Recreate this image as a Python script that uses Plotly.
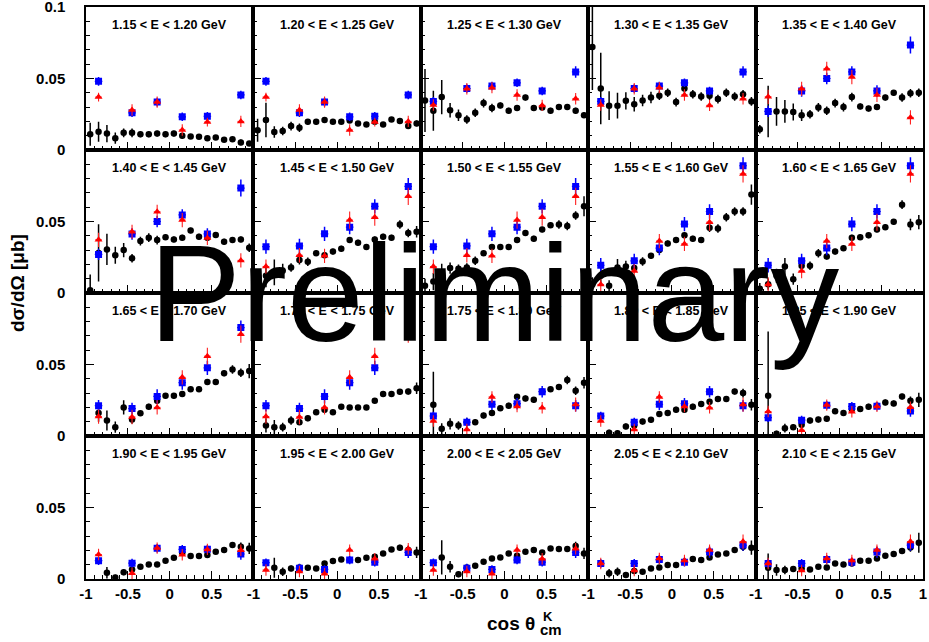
import plotly.graph_objects as go
from plotly.subplots import make_subplots

# ---------------- data ----------------
titles = ["1.15 < E < 1.20 GeV", "1.20 < E < 1.25 GeV", "1.25 < E < 1.30 GeV", "1.30 < E < 1.35 GeV", "1.35 < E < 1.40 GeV",
          "1.40 < E < 1.45 GeV", "1.45 < E < 1.50 GeV", "1.50 < E < 1.55 GeV", "1.55 < E < 1.60 GeV", "1.60 < E < 1.65 GeV",
          "1.65 < E < 1.70 GeV", "1.70 < E < 1.75 GeV", "1.75 < E < 1.80 GeV", "1.80 < E < 1.85 GeV", "1.85 < E < 1.90 GeV",
          "1.90 < E < 1.95 GeV", "1.95 < E < 2.00 GeV", "2.00 < E < 2.05 GeV", "2.05 < E < 2.10 GeV", "2.10 < E < 2.15 GeV"]

cos_black = [-0.95, -0.85, -0.75, -0.65, -0.55, -0.45, -0.35, -0.25, -0.15, -0.05,
             0.05, 0.15, 0.25, 0.35, 0.45, 0.55, 0.65, 0.75, 0.85, 0.95]
cos_other = [-0.85, -0.45, -0.15, 0.15, 0.45, 0.85]

black_y = [
    [0.011, 0.0128, 0.0115, 0.0083, 0.012, 0.012, 0.011, 0.011, 0.0115, 0.011, 0.0115, 0.0099, 0.0094, 0.0092, 0.0083, 0.0087, 0.0071, 0.0076, 0.0053, 0.0046],
    [0.0138, 0.021, 0.0126, 0.0133, 0.0167, 0.0156, 0.0197, 0.0197, 0.0209, 0.0197, 0.0197, 0.0206, 0.0186, 0.0179, 0.0197, 0.0179, 0.0213, 0.0202, 0.0167, 0.0186],
    [0.0346, 0.0275, 0.037, 0.0278, 0.0243, 0.0213, 0.026, 0.0328, 0.0294, 0.0312, 0.0275, 0.0294, 0.0367, 0.0294, 0.0298, 0.0275, 0.030, 0.030, 0.0275, 0.0243],
    [0.072, 0.043, 0.031, 0.031, 0.0344, 0.032, 0.0346, 0.0367, 0.038, 0.040, 0.0335, 0.043, 0.039, 0.0374, 0.038, 0.0356, 0.040, 0.0374, 0.039, 0.034],
    [0.0145, 0.027, 0.027, 0.027, 0.0266, 0.0243, 0.025, 0.0298, 0.0275, 0.0328, 0.030, 0.037, 0.0305, 0.029, 0.030, 0.0367, 0.040, 0.0367, 0.0397, 0.040],
    [0.002, 0.028, 0.0305, 0.0264, 0.030, 0.0243, 0.0363, 0.0387, 0.037, 0.039, 0.0375, 0.0387, 0.0437, 0.0394, 0.0387, 0.0405, 0.0359, 0.037, 0.0375, 0.0317],
    [0.006, 0.012, 0.0144, 0.0155, 0.0178, 0.023, 0.0218, 0.0278, 0.0264, 0.029, 0.031, 0.037, 0.0352, 0.0322, 0.0375, 0.0394, 0.0387, 0.0479, 0.042, 0.0428],
    [0.005, 0.008, 0.0144, 0.0174, 0.017, 0.0178, 0.0225, 0.0278, 0.0322, 0.0322, 0.0322, 0.037, 0.042, 0.038, 0.0444, 0.0474, 0.0479, 0.0468, 0.0542, 0.0606],
    [0.006, 0.012, 0.005, 0.0178, 0.0185, 0.0174, 0.022, 0.026, 0.030, 0.0347, 0.037, 0.0403, 0.038, 0.037, 0.0456, 0.0451, 0.053, 0.057, 0.057, 0.0688],
    [0.003, 0.0062, 0.012, 0.0185, 0.0097, 0.019, 0.019, 0.0278, 0.0255, 0.029, 0.0313, 0.0387, 0.039, 0.0403, 0.0444, 0.046, 0.0498, 0.0618, 0.0479, 0.0495],
    [None, 0.016, 0.0108, 0.0062, 0.020, 0.0115, 0.0159, 0.0205, 0.0247, 0.0281, 0.0281, 0.0293, 0.0327, 0.0327, 0.0378, 0.0378, 0.0438, 0.0465, 0.0442, 0.0454],
    [None, 0.0074, 0.0062, 0.0062, 0.0108, 0.0097, 0.0124, 0.0166, 0.0184, 0.0166, 0.0205, 0.020, 0.020, 0.020, 0.0247, 0.0293, 0.0293, 0.0309, 0.0311, 0.0334],
    [None, 0.0219, 0.005, 0.0085, 0.0074, 0.0097, 0.0097, 0.0143, 0.016, 0.0194, 0.0212, 0.0274, 0.0263, 0.0253, 0.0311, 0.0327, 0.0343, 0.0392, 0.0316, 0.0373],
    [None, None, 0.0023, 0.002, 0.0067, 0.0074, 0.0101, 0.0113, 0.0154, 0.016, 0.0184, 0.0184, 0.0205, 0.0224, 0.024, 0.0258, 0.0258, 0.0311, 0.030, 0.0219],
    [None, 0.0281, 0.0016, 0.0055, 0.0062, 0.0078, 0.0108, 0.0115, 0.012, 0.0173, 0.0161, 0.0189, 0.0189, 0.0205, 0.0212, 0.0235, 0.0228, 0.0276, 0.0247, 0.0253],
    [None, None, 0.0044, 0.001, 0.0047, 0.0067, 0.0086, 0.0102, 0.0102, 0.0128, 0.0149, 0.0184, 0.016, 0.016, 0.0167, 0.019, 0.0202, 0.0237, 0.0226, 0.0214],
    [None, None, 0.0079, 0.0051, 0.0074, 0.0081, 0.0079, 0.0074, 0.0109, 0.0126, 0.0137, 0.0133, 0.0133, 0.0149, 0.0156, 0.0179, 0.0207, 0.0219, 0.0202, 0.0186],
    [None, None, 0.0151, 0.0086, 0.0033, 0.008, 0.0093, 0.0121, 0.0144, 0.0151, 0.0179, 0.0163, 0.019, 0.0202, 0.0186, 0.0214, 0.0209, 0.0209, 0.023, 0.0179],
    [None, None, 0.004, 0.0051, 0.0028, 0.0056, 0.0051, 0.0074, 0.0081, 0.0098, 0.0098, 0.0121, 0.014, 0.0133, 0.0151, 0.0172, 0.0179, 0.0202, 0.0226, 0.0219],
    [None, 0.0079, 0.0063, 0.0063, 0.007, 0.0074, 0.0067, 0.0086, 0.0081, 0.0109, 0.0102, 0.0109, 0.0128, 0.0128, 0.0144, 0.0163, 0.0174, 0.0195, 0.0221, 0.0253],
]

black_err = [
    [0.008, 0.007, 0.006, 0.004, 0.003, 0.003, 0.002, 0.002, 0.002, 0.002, 0.002, 0.002, 0.0015, 0.0015, 0.0015, 0.0015, 0.0015, 0.0015, 0.002, 0.0015],
    [0.008, 0.012, 0.004, 0.003, 0.003, 0.003, 0.002, 0.002, 0.002, 0.0015, 0.0015, 0.0015, 0.0015, 0.0015, 0.0015, 0.0015, 0.0015, 0.002, 0.002, 0.002],
    [0.022, 0.014, 0.012, 0.005, 0.004, 0.003, 0.003, 0.003, 0.003, 0.002, 0.002, 0.002, 0.002, 0.002, 0.002, 0.002, 0.002, 0.002, 0.002, 0.002],
    [0.03, 0.025, 0.01, 0.009, 0.006, 0.005, 0.004, 0.004, 0.003, 0.003, 0.003, 0.003, 0.003, 0.003, 0.003, 0.003, 0.003, 0.003, 0.003, 0.003],
    [0.003, 0.018, 0.01, 0.008, 0.006, 0.004, 0.003, 0.003, 0.003, 0.003, 0.003, 0.003, 0.002, 0.002, 0.002, 0.002, 0.002, 0.003, 0.003, 0.003],
    [0.011, 0.02, 0.011, 0.006, 0.005, 0.003, 0.003, 0.003, 0.003, 0.002, 0.002, 0.002, 0.002, 0.002, 0.002, 0.002, 0.002, 0.002, 0.002, 0.003],
    [0.004, 0.008, 0.009, 0.005, 0.003, 0.003, 0.003, 0.002, 0.002, 0.002, 0.002, 0.002, 0.002, 0.002, 0.002, 0.002, 0.002, 0.003, 0.003, 0.004],
    [0.005, 0.006, 0.006, 0.004, 0.003, 0.003, 0.003, 0.002, 0.002, 0.002, 0.002, 0.002, 0.002, 0.002, 0.002, 0.002, 0.003, 0.003, 0.003, 0.007],
    [0.005, 0.006, 0.004, 0.006, 0.004, 0.003, 0.003, 0.002, 0.002, 0.002, 0.002, 0.002, 0.002, 0.002, 0.003, 0.003, 0.003, 0.003, 0.003, 0.007],
    [0.004, 0.004, 0.005, 0.006, 0.004, 0.003, 0.003, 0.003, 0.002, 0.002, 0.002, 0.002, 0.002, 0.002, 0.002, 0.002, 0.002, 0.003, 0.004, 0.005],
    [0, 0.006, 0.007, 0.004, 0.005, 0.003, 0.002, 0.002, 0.002, 0.002, 0.002, 0.002, 0.002, 0.002, 0.002, 0.002, 0.002, 0.003, 0.003, 0.005],
    [0, 0.005, 0.005, 0.003, 0.003, 0.002, 0.002, 0.002, 0.002, 0.0015, 0.0015, 0.0015, 0.0015, 0.0015, 0.0015, 0.002, 0.002, 0.002, 0.002, 0.004],
    [0, 0.023, 0.004, 0.004, 0.003, 0.003, 0.002, 0.002, 0.002, 0.002, 0.002, 0.002, 0.002, 0.002, 0.002, 0.002, 0.002, 0.003, 0.003, 0.004],
    [0, 0, 0.002, 0.002, 0.002, 0.002, 0.002, 0.002, 0.002, 0.002, 0.002, 0.002, 0.002, 0.002, 0.002, 0.002, 0.002, 0.002, 0.003, 0.004],
    [0, 0.045, 0.002, 0.003, 0.002, 0.002, 0.002, 0.002, 0.002, 0.002, 0.002, 0.002, 0.002, 0.002, 0.002, 0.002, 0.002, 0.002, 0.003, 0.005],
    [0, 0, 0.004, 0.002, 0.002, 0.002, 0.0015, 0.0015, 0.0015, 0.0015, 0.0015, 0.0015, 0.0015, 0.0015, 0.0015, 0.0015, 0.0015, 0.002, 0.003, 0.004],
    [0, 0, 0.007, 0.003, 0.002, 0.002, 0.0015, 0.0015, 0.0015, 0.0015, 0.0015, 0.0015, 0.0015, 0.0015, 0.0015, 0.0015, 0.0015, 0.002, 0.003, 0.004],
    [0, 0, 0.012, 0.004, 0.002, 0.002, 0.0015, 0.0015, 0.0015, 0.0015, 0.0015, 0.0015, 0.0015, 0.0015, 0.0015, 0.0015, 0.0015, 0.002, 0.003, 0.004],
    [0, 0, 0.003, 0.003, 0.002, 0.002, 0.0015, 0.0015, 0.0015, 0.0015, 0.0015, 0.0015, 0.0015, 0.0015, 0.0015, 0.0015, 0.0015, 0.002, 0.003, 0.005],
    [0, 0.01, 0.004, 0.003, 0.002, 0.002, 0.0015, 0.0015, 0.0015, 0.0015, 0.0015, 0.0015, 0.0015, 0.0015, 0.0015, 0.0015, 0.0015, 0.002, 0.003, 0.007],
]

# blue and red results are given in 0.1 GeV bins (one list per pair of panels)
blue_y = [
    [0.048, 0.026, 0.0335, 0.0232, 0.0236, 0.0385],
    [0.034, 0.043, 0.0447, 0.047, 0.0413, 0.0546],
    [0.027, 0.0413, 0.050, 0.0546, 0.0413, 0.0734],
    [0.0324, 0.0329, 0.0414, 0.046, 0.0606, 0.0745],
    [0.0194, 0.0225, 0.0314, 0.0482, 0.057, 0.089],
    [0.0212, 0.0192, 0.0277, 0.0373, 0.0477, 0.0758],
    [0.014, 0.0097, 0.0222, 0.0226, 0.031, 0.0212],
    [0.0128, 0.0111, 0.0215, 0.0207, 0.0208, 0.0175],
    [0.0114, 0.0076, 0.0067, 0.0133, 0.0118, 0.0186],
    [0.0109, 0.0109, 0.0136, 0.0118, 0.0188, 0.0237],
]
blue_err = [
    [0.003, 0.003, 0.003, 0.003, 0.003, 0.003],
    [0.003, 0.003, 0.003, 0.003, 0.003, 0.004],
    [0.004, 0.004, 0.004, 0.004, 0.004, 0.006],
    [0.005, 0.005, 0.005, 0.005, 0.005, 0.006],
    [0.005, 0.005, 0.005, 0.005, 0.005, 0.006],
    [0.004, 0.004, 0.005, 0.005, 0.005, 0.005],
    [0.003, 0.003, 0.004, 0.004, 0.004, 0.004],
    [0.003, 0.003, 0.003, 0.003, 0.003, 0.004],
    [0.003, 0.003, 0.003, 0.003, 0.003, 0.004],
    [0.003, 0.003, 0.003, 0.003, 0.004, 0.004],
]
red_y = [
    [0.037, 0.028, 0.0335, 0.014, 0.0195, 0.020],
    [0.0315, 0.0428, 0.0436, 0.0385, 0.0312, 0.0358],
    [0.0372, 0.0428, 0.0568, 0.051, 0.0385, 0.0228],
    [0.0185, 0.0264, 0.026, 0.051, 0.053, 0.0676],
    [0.006, 0.0153, 0.0363, 0.0343, 0.0495, 0.0833],
    [0.0136, 0.0133, 0.020, 0.041, 0.0558, 0.0712],
    [0.0105, 0.0046, 0.0273, 0.0206, 0.0197, 0.022],
    [0.0171, 0.004, 0.0216, 0.017, 0.0207, 0.0201],
    [0.0063, 0.0053, 0.0037, 0.0202, 0.0142, 0.0211],
    [0.0109, 0.006, 0.0144, 0.013, 0.0202, 0.0262],
]
red_err = [
    [0.003, 0.004, 0.004, 0.004, 0.003, 0.004],
    [0.004, 0.004, 0.004, 0.004, 0.004, 0.004],
    [0.005, 0.005, 0.005, 0.005, 0.005, 0.005],
    [0.005, 0.005, 0.005, 0.006, 0.006, 0.006],
    [0.005, 0.005, 0.005, 0.005, 0.006, 0.006],
    [0.005, 0.005, 0.005, 0.005, 0.006, 0.006],
    [0.004, 0.004, 0.004, 0.004, 0.004, 0.005],
    [0.004, 0.004, 0.004, 0.004, 0.004, 0.004],
    [0.004, 0.004, 0.004, 0.004, 0.004, 0.004],
    [0.004, 0.004, 0.004, 0.004, 0.004, 0.005],
]

x_tickvals = [-1, -0.5, 0, 0.5, 1]
x_ticktext = ["-1", "-0.5", "0", "0.5", "1"]
y_tickvals = [0, 0.05, 0.1]
y_ticktext = ["0", "0.05", "0.1"]

# ---------------- figure ----------------
W, H = 929, 642
L, R, T, B = 86, 6, 7, 63
PW, PH = W - L - R, H - T - B
FONT = "Liberation Sans, Arial, Helvetica, sans-serif"

fig = make_subplots(rows=4, cols=5, horizontal_spacing=0, vertical_spacing=0)

for i in range(20):
    r, c = i // 5 + 1, i % 5 + 1
    p = i // 2
    fig.add_trace(go.Scatter(
        x=cos_black, y=black_y[i], mode="markers",
        marker=dict(symbol="circle", size=6.5, color="black"),
        error_y=dict(type="data", array=black_err[i], color="black", thickness=1.5, width=0),
        error_x=dict(type="constant", value=0.03, color="black", thickness=1.5, width=0),
        showlegend=False, hoverinfo="x+y"), row=r, col=c)
    fig.add_trace(go.Scatter(
        x=cos_other, y=blue_y[p], mode="markers",
        marker=dict(symbol="square", size=7, color="#0000ff"),
        error_y=dict(type="data", array=blue_err[p], color="#0000ff", thickness=1.5, width=0),
        error_x=dict(type="constant", value=0.045, color="#0000ff", thickness=1.2, width=0),
        showlegend=False, hoverinfo="x+y"), row=r, col=c)
    fig.add_trace(go.Scatter(
        x=cos_other, y=red_y[p], mode="markers",
        marker=dict(symbol="triangle-up", size=7, color="#ff0000"),
        error_y=dict(type="data", array=red_err[p], color="#ff2020", thickness=1.1, width=0),
        error_x=dict(type="constant", value=0.04, color="#ff2020", thickness=1.0, width=0),
        showlegend=False, hoverinfo="x+y"), row=r, col=c)

    n = i + 1
    xd = "x domain" if n == 1 else f"x{n} domain"
    yd = "y domain" if n == 1 else f"y{n} domain"
    fig.add_annotation(text=f"<b>{titles[i]}</b>", xref=xd, yref=yd, x=0.5, y=1 - 18 / 143,
                       xanchor="center", yanchor="middle", showarrow=False,
                       font=dict(family=FONT, size=12.5, color="black"))

fig.update_xaxes(range=[-1, 1], showgrid=False, zeroline=False, showline=True, mirror=True,
                 linecolor="black", linewidth=1.5, ticks="inside", ticklen=8, tickwidth=1.2,
                 tickcolor="black", tickmode="array", tickvals=x_tickvals, ticktext=x_ticktext,
                 minor=dict(ticks="inside", ticklen=4, tickwidth=1, tickcolor="black", dtick=0.1, tick0=-1),
                 showticklabels=False, automargin=False, ticklabeloverflow="allow",
                 tickfont=dict(family=FONT, size=15, color="black", weight="bold"))
fig.update_yaxes(range=[0, 0.1], showgrid=False, zeroline=False, showline=True, mirror=True,
                 linecolor="black", linewidth=1.5, ticks="inside", ticklen=8, tickwidth=1.2,
                 tickcolor="black", tickmode="array", tickvals=y_tickvals,
                 ticktext=["0", "0.05", ""],
                 minor=dict(ticks="inside", ticklen=4, tickwidth=1, tickcolor="black", dtick=0.01, tick0=0),
                 showticklabels=False, automargin=False, ticklabeloverflow="allow",
                 tickfont=dict(family=FONT, size=15, color="black", weight="bold"))

for c in range(1, 6):
    txt = x_ticktext if c == 5 else x_ticktext[:4] + [""]
    fig.update_xaxes(showticklabels=True, ticktext=txt, ticklabelstandoff=0, row=4, col=c)
for r in range(1, 5):
    txt = y_ticktext if r == 1 else ["0", "0.05", ""]
    fig.update_yaxes(showticklabels=True, ticktext=txt, ticklabelstandoff=16, row=r, col=1)

def px_x(px):
    return (px - L) / PW

def px_y(py):
    return (H - B - py) / PH

# watermark
fig.add_annotation(text="Preliminary", xref="paper", yref="paper", x=px_x(494), y=px_y(293),
                   xanchor="center", yanchor="middle", showarrow=False,
                   font=dict(family=FONT, size=138, color="black"))
# axis titles
fig.add_annotation(text="<b>dσ/dΩ [μb]</b>", xref="paper", yref="paper", x=px_x(17), y=px_y(283),
                   xanchor="center", yanchor="middle", textangle=-90, showarrow=False,
                   font=dict(family=FONT, size=19, color="black"))
fig.add_annotation(text="<b>cos θ</b>", xref="paper", yref="paper", x=px_x(537), y=px_y(636),
                   xanchor="right", yanchor="bottom", showarrow=False,
                   font=dict(family=FONT, size=19, color="black"))
fig.add_annotation(text="<b>K</b>", xref="paper", yref="paper", x=px_x(541), y=px_y(626),
                   xanchor="left", yanchor="bottom", showarrow=False,
                   font=dict(family=FONT, size=13, color="black"))
fig.add_annotation(text="<b>cm</b>", xref="paper", yref="paper", x=px_x(538), y=px_y(640),
                   xanchor="left", yanchor="bottom", showarrow=False,
                   font=dict(family=FONT, size=15, color="black"))

fig.update_layout(width=W, height=H, margin=dict(l=L, r=R, t=T, b=B, autoexpand=False),
                  paper_bgcolor="white", plot_bgcolor="white", showlegend=False,
                  font=dict(family=FONT, color="black"))

fig.write_html("out.html", config={"displayModeBar": False},
               post_script="document.body.style.margin='0px';")
